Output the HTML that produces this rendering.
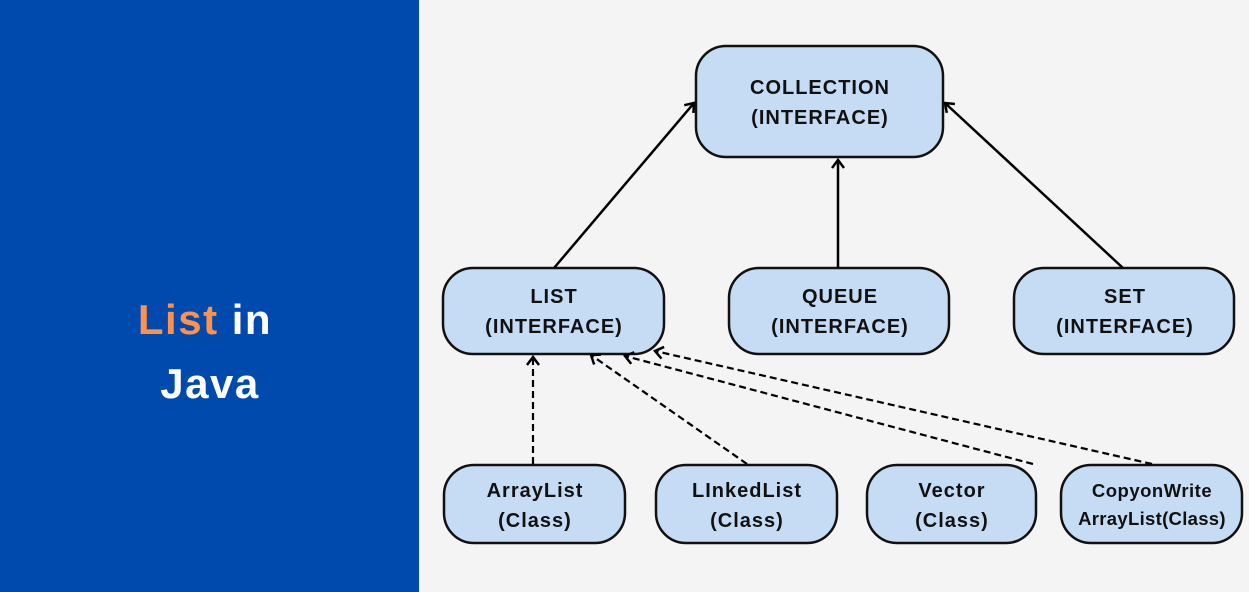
<!DOCTYPE html>
<html><head><style>
html,body{margin:0;padding:0;width:1249px;height:592px;overflow:hidden;background:#f4f4f4}
text{font-family:"Liberation Sans",sans-serif;font-weight:bold}
</style></head><body>
<svg width="1249" height="592" xmlns="http://www.w3.org/2000/svg">
<defs>
<marker id="a" markerWidth="14" markerHeight="14" refX="10" refY="7" orient="auto" markerUnits="userSpaceOnUse">
<path d="M2,1 L10,7 L2,13" fill="none" stroke="#000" stroke-width="2.5"/>
</marker>
</defs>
<rect x="0" y="0" width="419" height="592" fill="#004aad"/>
<text x="205" y="334" font-size="42" letter-spacing="1.5" text-anchor="middle"><tspan fill="#ff914d">List</tspan><tspan fill="#fff"> in</tspan></text>
<text x="210" y="398" font-size="42" letter-spacing="1.5" text-anchor="middle" fill="#fff">Java</text>
<g fill="#c6dcf5" stroke="#111" stroke-width="2.5">
<rect x="696" y="46" width="247" height="111" rx="30"/>
<rect x="443" y="268" width="221" height="86" rx="30"/>
<rect x="729" y="268" width="220" height="86" rx="30"/>
<rect x="1014" y="268" width="220" height="86" rx="30"/>
<rect x="444" y="465" width="181" height="78" rx="30"/>
<rect x="656" y="465" width="181" height="78" rx="30"/>
<rect x="867" y="465" width="169" height="78" rx="30"/>
<rect x="1061" y="465" width="181" height="78" rx="30"/>
</g>
<g stroke="#000" stroke-width="2.5" fill="none" marker-end="url(#a)">
<line x1="554" y1="268" x2="694" y2="103"/>
<line x1="838" y1="268" x2="838" y2="160"/>
<line x1="1123" y1="268" x2="945" y2="103"/>
</g>
<g stroke="#000" stroke-width="2.2" fill="none" stroke-dasharray="7,4" marker-end="url(#a)">
<line x1="533" y1="464" x2="533" y2="357"/>
<line x1="747" y1="464" x2="591" y2="355"/>
<line x1="1033" y1="464" x2="625" y2="356"/>
<line x1="1152" y1="464" x2="655" y2="351"/>
</g>
<g font-size="20" letter-spacing="1" text-anchor="middle" fill="#111">
<text x="820" y="94">COLLECTION</text><text x="820" y="124">(INTERFACE)</text>
<text x="554" y="303">LIST</text><text x="554" y="333">(INTERFACE)</text>
<text x="840" y="303">QUEUE</text><text x="840" y="333">(INTERFACE)</text>
<text x="1125" y="303">SET</text><text x="1125" y="333">(INTERFACE)</text>
<text x="535" y="497">ArrayList</text><text x="535" y="527">(Class)</text>
<text x="747" y="497">LInkedList</text><text x="747" y="527">(Class)</text>
<text x="952" y="497">Vector</text><text x="952" y="527">(Class)</text>
<text x="1152" y="497" font-size="18.5" letter-spacing="0.5">CopyonWrite</text><text x="1152" y="525" font-size="18.5" letter-spacing="0.3">ArrayList(Class)</text>
</g>
</svg>
</body></html>
